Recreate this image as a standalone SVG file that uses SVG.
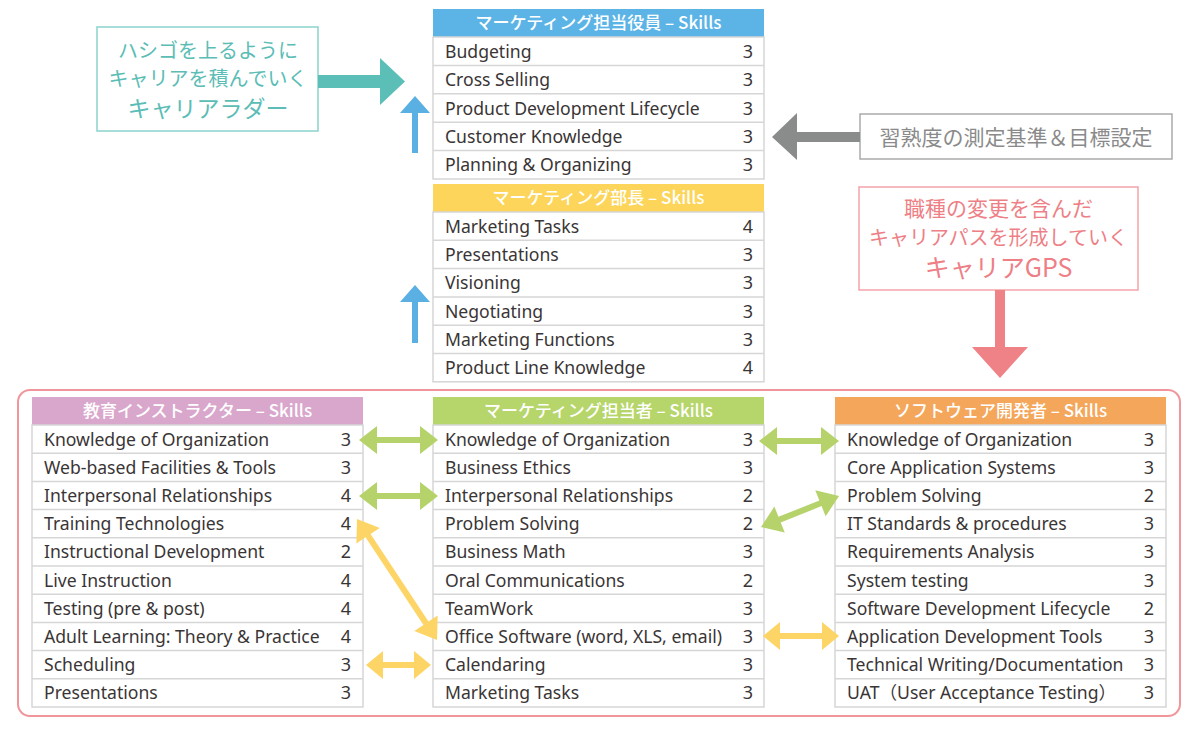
<svg xmlns="http://www.w3.org/2000/svg" width="1200" height="730" viewBox="0 0 1200 730">
<style>
.hd{font-family:"Noto Sans CJK JP","Noto Sans",sans-serif;font-size:17px;fill:#fff;text-anchor:middle;font-weight:500}
.tx{font-family:"Noto Sans","Noto Sans CJK JP",sans-serif;font-size:17.6px;fill:#3a3535}
.nm{font-family:"Noto Sans","Noto Sans CJK JP",sans-serif;font-size:18px;fill:#3a3535;text-anchor:middle}
.tb{fill:#fff;stroke:#d6d6d6;stroke-width:1.5}
.ln{stroke:#d6d6d6;stroke-width:1.5}
.jp{font-family:"Noto Sans CJK JP",sans-serif;text-anchor:middle}
.green{fill:#b5d36a}
.yellow{fill:#fdd466}
</style>
<defs>
<g id="rows5">
<line class="ln" x1="0" y1="28.4" x2="331" y2="28.4"/>
<line class="ln" x1="0" y1="56.8" x2="331" y2="56.8"/>
<line class="ln" x1="0" y1="85.2" x2="331" y2="85.2"/>
<line class="ln" x1="0" y1="113.6" x2="331" y2="113.6"/>
</g>
<g id="rows6">
<line class="ln" x1="0" y1="28.3" x2="331" y2="28.3"/>
<line class="ln" x1="0" y1="56.6" x2="331" y2="56.6"/>
<line class="ln" x1="0" y1="84.9" x2="331" y2="84.9"/>
<line class="ln" x1="0" y1="113.2" x2="331" y2="113.2"/>
<line class="ln" x1="0" y1="141.5" x2="331" y2="141.5"/>
</g>
<g id="rows10">
<line class="ln" x1="0" y1="28.2" x2="331" y2="28.2"/>
<line class="ln" x1="0" y1="56.4" x2="331" y2="56.4"/>
<line class="ln" x1="0" y1="84.6" x2="331" y2="84.6"/>
<line class="ln" x1="0" y1="112.8" x2="331" y2="112.8"/>
<line class="ln" x1="0" y1="141" x2="331" y2="141"/>
<line class="ln" x1="0" y1="169.2" x2="331" y2="169.2"/>
<line class="ln" x1="0" y1="197.4" x2="331" y2="197.4"/>
<line class="ln" x1="0" y1="225.6" x2="331" y2="225.6"/>
<line class="ln" x1="0" y1="253.8" x2="331" y2="253.8"/>
</g>
</defs>

<rect x="18" y="390" width="1162" height="326" rx="12" fill="none" stroke="#f0959a" stroke-width="2"/>

<!-- Callout: career ladder -->
<g id="callout-ladder">
<rect x="97" y="27" width="221" height="104" fill="#fff" stroke="#8ad3ce" stroke-width="1.5"/>
<text class="jp" x="208" y="58" font-size="20" fill="#5bbdb6">ハシゴを上るように</text>
<text class="jp" x="208" y="86" font-size="20" fill="#5bbdb6">キャリアを積んでいく</text>
<text class="jp" x="208" y="117" font-size="23" fill="#5bbdb6">キャリアラダー</text>
</g>

<!-- Callout: measurement -->
<g id="callout-measure">
<rect x="860" y="114" width="312" height="45" fill="#fff" stroke="#aaaaaa" stroke-width="1.5"/>
<text class="jp" x="1016" y="145" font-size="21" fill="#8a8a8a">習熟度の測定基準＆目標設定</text>
</g>

<!-- Callout: career GPS -->
<g id="callout-gps">
<rect x="859" y="187" width="279" height="103" fill="#fff" stroke="#f4a3a8" stroke-width="1.5"/>
<text class="jp" x="998.5" y="216" font-size="21" fill="#ee7f86">職種の変更を含んだ</text>
<text class="jp" x="998.5" y="245" font-size="20" fill="#ee7f86">キャリアパスを形成していく</text>
<text class="jp" x="998.5" y="277" font-size="25" fill="#ee7f86">キャリアGPS</text>
</g>

<!-- Top table: executive -->
<g id="table-exec">
<rect x="433" y="9" width="331" height="28" fill="#5cb4e6"/>
<text class="hd" x="598.5" y="29">マーケティング担当役員 – Skills</text>
<rect class="tb" x="433" y="37" width="331" height="142"/>
<use href="#rows5" x="433" y="37"/>
<text class="tx" x="445" y="57.7">Budgeting</text><text class="nm" x="748" y="57.7">3</text>
<text class="tx" x="445" y="86.1">Cross Selling</text><text class="nm" x="748" y="86.1">3</text>
<text class="tx" x="445" y="114.5">Product Development Lifecycle</text><text class="nm" x="748" y="114.5">3</text>
<text class="tx" x="445" y="142.9">Customer Knowledge</text><text class="nm" x="748" y="142.9">3</text>
<text class="tx" x="445" y="171.3">Planning &amp; Organizing</text><text class="nm" x="748" y="171.3">3</text>
</g>

<!-- Second table: manager -->
<g id="table-manager">
<rect x="433" y="184" width="331" height="28" fill="#fcd55a"/>
<text class="hd" x="598.5" y="204">マーケティング部長 – Skills</text>
<rect class="tb" x="433" y="212" width="331" height="169.8"/>
<use href="#rows6" x="433" y="212"/>
<text class="tx" x="445" y="232.6">Marketing Tasks</text><text class="nm" x="748" y="232.6">4</text>
<text class="tx" x="445" y="260.9">Presentations</text><text class="nm" x="748" y="260.9">3</text>
<text class="tx" x="445" y="289.2">Visioning</text><text class="nm" x="748" y="289.2">3</text>
<text class="tx" x="445" y="317.5">Negotiating</text><text class="nm" x="748" y="317.5">3</text>
<text class="tx" x="445" y="345.8">Marketing Functions</text><text class="nm" x="748" y="345.8">3</text>
<text class="tx" x="445" y="374.1">Product Line Knowledge</text><text class="nm" x="748" y="374.1">4</text>
</g>

<!-- Bottom left: instructor -->
<g id="table-instructor">
<rect x="32" y="397" width="331" height="28" fill="#d9a7cc"/>
<text class="hd" x="197.5" y="417">教育インストラクター – Skills</text>
<rect class="tb" x="32" y="425" width="331" height="282"/>
<use href="#rows10" x="32" y="425"/>
<text class="tx" x="44" y="445.6">Knowledge of Organization</text><text class="nm" x="346" y="445.6">3</text>
<text class="tx" x="44" y="473.8">Web-based Facilities &amp; Tools</text><text class="nm" x="346" y="473.8">3</text>
<text class="tx" x="44" y="502">Interpersonal Relationships</text><text class="nm" x="346" y="502">4</text>
<text class="tx" x="44" y="530.2">Training Technologies</text><text class="nm" x="346" y="530.2">4</text>
<text class="tx" x="44" y="558.4">Instructional Development</text><text class="nm" x="346" y="558.4">2</text>
<text class="tx" x="44" y="586.6">Live Instruction</text><text class="nm" x="346" y="586.6">4</text>
<text class="tx" x="44" y="614.8">Testing (pre &amp; post)</text><text class="nm" x="346" y="614.8">4</text>
<text class="tx" x="44" y="643">Adult Learning: Theory &amp; Practice</text><text class="nm" x="346" y="643">4</text>
<text class="tx" x="44" y="671.2">Scheduling</text><text class="nm" x="346" y="671.2">3</text>
<text class="tx" x="44" y="699.4">Presentations</text><text class="nm" x="346" y="699.4">3</text>
</g>

<!-- Bottom center: marketing staff -->
<g id="table-staff">
<rect x="433" y="397" width="331" height="28" fill="#b6d56a"/>
<text class="hd" x="598.5" y="417">マーケティング担当者 – Skills</text>
<rect class="tb" x="433" y="425" width="331" height="282"/>
<use href="#rows10" x="433" y="425"/>
<text class="tx" x="445" y="445.6">Knowledge of Organization</text><text class="nm" x="748" y="445.6">3</text>
<text class="tx" x="445" y="473.8">Business Ethics</text><text class="nm" x="748" y="473.8">3</text>
<text class="tx" x="445" y="502">Interpersonal Relationships</text><text class="nm" x="748" y="502">2</text>
<text class="tx" x="445" y="530.2">Problem Solving</text><text class="nm" x="748" y="530.2">2</text>
<text class="tx" x="445" y="558.4">Business Math</text><text class="nm" x="748" y="558.4">3</text>
<text class="tx" x="445" y="586.6">Oral Communications</text><text class="nm" x="748" y="586.6">2</text>
<text class="tx" x="445" y="614.8">TeamWork</text><text class="nm" x="748" y="614.8">3</text>
<text class="tx" x="445" y="643">Office Software (word, XLS, email)</text><text class="nm" x="748" y="643">3</text>
<text class="tx" x="445" y="671.2">Calendaring</text><text class="nm" x="748" y="671.2">3</text>
<text class="tx" x="445" y="699.4">Marketing Tasks</text><text class="nm" x="748" y="699.4">3</text>
</g>

<!-- Bottom right: software developer -->
<g id="table-developer">
<rect x="835" y="397" width="331" height="28" fill="#f4a65b"/>
<text class="hd" x="1000.5" y="417">ソフトウェア開発者 – Skills</text>
<rect class="tb" x="835" y="425" width="331" height="282"/>
<use href="#rows10" x="835" y="425"/>
<text class="tx" x="847" y="445.6">Knowledge of Organization</text><text class="nm" x="1149" y="445.6">3</text>
<text class="tx" x="847" y="473.8">Core Application Systems</text><text class="nm" x="1149" y="473.8">3</text>
<text class="tx" x="847" y="502">Problem Solving</text><text class="nm" x="1149" y="502">2</text>
<text class="tx" x="847" y="530.2">IT Standards &amp; procedures</text><text class="nm" x="1149" y="530.2">3</text>
<text class="tx" x="847" y="558.4">Requirements Analysis</text><text class="nm" x="1149" y="558.4">3</text>
<text class="tx" x="847" y="586.6">System testing</text><text class="nm" x="1149" y="586.6">3</text>
<text class="tx" x="847" y="614.8">Software Development Lifecycle</text><text class="nm" x="1149" y="614.8">2</text>
<text class="tx" x="847" y="643">Application Development Tools</text><text class="nm" x="1149" y="643">3</text>
<text class="tx" x="847" y="671.2">Technical Writing/Documentation</text><text class="nm" x="1149" y="671.2">3</text>
<text class="tx" x="847" y="699.4">UAT（User Acceptance Testing）</text><text class="nm" x="1149" y="699.4">3</text>
</g>

<!-- Connectors -->
<g id="connectors">
<polygon fill="#5bbfb8" points="318,75 380,75 380,58 405,81.5 380,105 380,88 318,88"/>
<polygon fill="#5ab0e3" points="412,153 418,153 418,113 430,113 415,96 400,113 412,113"/>
<polygon fill="#5ab0e3" points="412,343 418,343 418,302 430,302 415,285 400,302 412,302"/>
<polygon fill="#8a8c8c" points="860,132 797,132 797,113 772,137 797,160 797,142 860,142"/>
<polygon fill="#ef8287" points="995,290 1005,290 1005,347 1028,347 1000,378 972,347 995,347"/>
<polygon class="green" points="359,440 377,426 377,437 420,437 420,426 438,440 420,454 420,443 377,443 377,454"/>
<polygon class="green" points="359,496 377,482 377,493 420,493 420,482 438,496 420,510 420,499 377,499 377,510"/>
<polygon class="green" points="759,441 777,427 777,438 821,438 821,427 839,441 821,455 821,444 777,444 777,455"/>
<polygon class="yellow" points="366,665 383,651 383,662 414,662 414,651 431,665 414,679 414,668 383,668 383,679"/>
<polygon class="yellow" points="763,636 780,622 780,633 822,633 822,622 839,636 822,650 822,639 780,639 780,650"/>
<g transform="translate(357,519) rotate(56.5)">
<polygon class="yellow" points="0,0 20,-14 20,-3 125,-3 125,-14 145,0 125,14 125,3 20,3 20,14"/>
</g>
<g transform="translate(761,527) rotate(-21.7)">
<polygon class="green" points="0,0 20,-14 20,-3 64,-3 64,-14 84,0 64,14 64,3 20,3 20,14"/>
</g>
</g>
</svg>
